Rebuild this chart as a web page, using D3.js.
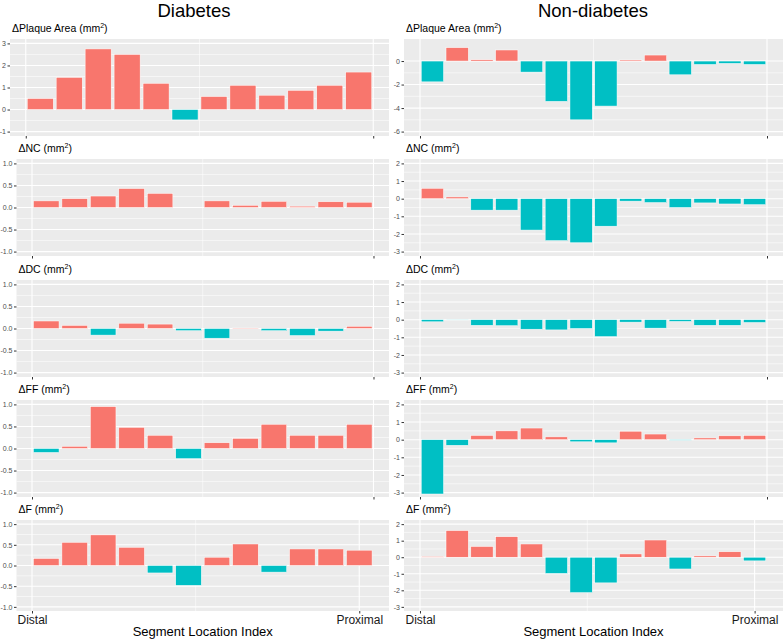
<!DOCTYPE html>
<html>
<head>
<meta charset="utf-8">
<script src="https://cdnjs.cloudflare.com/ajax/libs/d3/7.8.5/d3.min.js"></script>
<style>
body { margin: 0; background: #fff; }
text { font-family: "Liberation Sans", Arial, sans-serif; }
</style>
</head>
<body>
<div id="chart-area"></div>
<script>
// Data
var groups = ["Diabetes", "Non-diabetes"];
var measures = ["Plaque Area", "NC", "DC", "FF", "F"];

var diabetesSegments = [1, 2, 3, 4, 5, 6, 7, 8, 9, 10, 11, 12];
var nonDiabetesSegments = [1, 2, 3, 4, 5, 6, 7, 8, 9, 10, 11, 12, 13, 14];

var diabetesPlaqueArea = [0.5, 1.46, 2.75, 2.5, 1.19, -0.47, 0.59, 1.1, 0.65, 0.87, 1.1, 1.7];
var diabetesNC = [0.15, 0.2, 0.26, 0.43, 0.32, 0, 0.15, 0.05, 0.14, 0.03, 0.13, 0.12];
var diabetesDC = [0.17, 0.07, -0.15, 0.12, 0.1, -0.05, -0.22, 0.01, -0.05, -0.16, -0.06, 0.05];
var diabetesFF = [-0.09, 0.05, 0.95, 0.48, 0.3, -0.23, 0.13, 0.23, 0.55, 0.3, 0.3, 0.55];
var diabetesF = [0.17, 0.56, 0.74, 0.44, -0.18, -0.48, 0.2, 0.52, -0.16, 0.4, 0.4, 0.37];

var nonDiabetesPlaqueArea = [-1.77, 1.14, 0.11, 0.94, -0.94, -3.43, -5.0, -3.83, 0.09, 0.51, -1.17, -0.29, -0.2, -0.29];
var nonDiabetesNC = [0.59, 0.1, -0.65, -0.65, -1.78, -2.38, -2.5, -1.56, -0.14, -0.22, -0.5, -0.24, -0.3, -0.34];
var nonDiabetesDC = [-0.12, -0.02, -0.32, -0.34, -0.54, -0.58, -0.5, -0.96, -0.14, -0.48, -0.1, -0.32, -0.32, -0.16];
var nonDiabetesFF = [-3.08, -0.32, 0.24, 0.5, 0.66, 0.16, -0.12, -0.18, 0.48, 0.32, -0.03, 0.1, 0.22, 0.24];
var nonDiabetesF = [0.04, 1.61, 0.65, 1.24, 0.8, -0.98, -2.14, -1.55, 0.2, 1.04, -0.71, 0.08, 0.33, -0.22];

// y limits and tick labels
var diabetesPlaqueLimits = [-1, 3];
var diabetesPlaqueTicks = [-1, 0, 1, 2, 3];
var diabetesLimits = [-1, 1];
var diabetesTicks = [-1, -0.5, 0, 0.5, 1];
var nonDiabetesPlaqueLimits = [-6, 1.5];
var nonDiabetesPlaqueTicks = [-6, -4, -2, 0];
var nonDiabetesLimits = [-3, 2];
var nonDiabetesTicks = [-3, -2, -1, 0, 1, 2];

var xLabels = ["Distal", "Proximal"];
var xTitle = "Segment Location Index";

var posColor = "#F8766D", negColor = "#00BFC4";

var svg = d3.select("#chart-area")
    .append("svg")
        .attr("width", 784)
        .attr("height", 642);

// Layout
var rowTops = [39, 159, 280, 400, 520];
var rowHeights = [97, 97, 97, 97, 91];

var columns = [
    {
        title: groups[0], titleX: 194,
        lefts: [10, 16.5, 16.5, 16.5, 16.5], right: 389,
        segments: diabetesSegments,
        values: [diabetesPlaqueArea, diabetesNC, diabetesDC, diabetesFF, diabetesF],
        limits: [diabetesPlaqueLimits, diabetesLimits, diabetesLimits, diabetesLimits, diabetesLimits],
        ticks: [diabetesPlaqueTicks, diabetesTicks, diabetesTicks, diabetesTicks, diabetesTicks],
        fmt: [String, fix1, fix1, fix1, fix1]
    },
    {
        title: groups[1], titleX: 593,
        lefts: [404, 404, 404, 404, 404], right: 783,
        segments: nonDiabetesSegments,
        values: [nonDiabetesPlaqueArea, nonDiabetesNC, nonDiabetesDC, nonDiabetesFF, nonDiabetesF],
        limits: [nonDiabetesPlaqueLimits, nonDiabetesLimits, nonDiabetesLimits, nonDiabetesLimits, nonDiabetesLimits],
        ticks: [nonDiabetesPlaqueTicks, nonDiabetesTicks, nonDiabetesTicks, nonDiabetesTicks, nonDiabetesTicks],
        fmt: [String, String, String, String, String]
    }
];

function fix1(d){ return d.toFixed(1); }

function midpoints(arr){
    var out = [];
    var s = arr.slice().sort(function(a, b){ return a - b; });
    for (var i = 1; i < s.length; i++) { out.push((s[i-1] + s[i]) / 2); }
    return out;
}

columns.forEach(function(col){
    // Column title
    svg.append("text")
        .attr("x", col.titleX)
        .attr("y", 17)
        .attr("text-anchor", "middle")
        .attr("font-size", "18.5px")
        .attr("fill", "#000")
        .text(col.title);

    measures.forEach(function(measure, r){
        var left = col.lefts[r],
            top = rowTops[r],
            w = col.right - left,
            h = rowHeights[r];
        var isBottom = (r === measures.length - 1);
        var n = col.segments.length;

        var g = svg.append("g")
            .attr("transform", "translate(" + left + "," + top + ")");

        // Scales (ggplot style 5% expansion)
        var lo = 0.55, hi = n + 0.45, pad = (hi - lo) * 0.05;
        var x = d3.scaleLinear()
            .domain([lo - pad, hi + pad])
            .range([0, w]);
        var lim = col.limits[r], ypad = (lim[1] - lim[0]) * 0.05;
        var y = d3.scaleLinear()
            .domain([lim[0] - ypad, lim[1] + ypad])
            .range([h, 0]);

        var xMajor = isBottom ? [0.5, n] : [0.5, n + 0.5];
        var xMinor = midpoints(xMajor);
        var yMajor = col.ticks[r];
        var yMinor = midpoints(yMajor);

        // Panel background
        g.append("rect")
            .attr("width", w)
            .attr("height", h)
            .attr("fill", "#EBEBEB");

        // Minor grid
        g.selectAll(".y-minor").data(yMinor).enter().append("line")
            .attr("x1", 0).attr("x2", w)
            .attr("y1", function(d){ return y(d); })
            .attr("y2", function(d){ return y(d); })
            .attr("stroke", "#fff").attr("stroke-width", 0.55);
        g.selectAll(".x-minor").data(xMinor).enter().append("line")
            .attr("y1", 0).attr("y2", h)
            .attr("x1", function(d){ return x(d); })
            .attr("x2", function(d){ return x(d); })
            .attr("stroke", "#fff").attr("stroke-width", 0.55);

        // Major grid
        g.selectAll(".y-major").data(yMajor).enter().append("line")
            .attr("x1", 0).attr("x2", w)
            .attr("y1", function(d){ return y(d); })
            .attr("y2", function(d){ return y(d); })
            .attr("stroke", "#fff").attr("stroke-width", 1.1);
        g.selectAll(".x-major").data(xMajor).enter().append("line")
            .attr("y1", 0).attr("y2", h)
            .attr("x1", function(d){ return x(d); })
            .attr("x2", function(d){ return x(d); })
            .attr("stroke", "#fff").attr("stroke-width", 1.1);

        // Bars
        var data = col.segments.map(function(s, i){
            return { seg: s, value: col.values[r][i] };
        });
        g.selectAll(".bar").data(data).enter().append("rect")
            .attr("class", "bar")
            .attr("x", function(d){ return x(d.seg - 0.45); })
            .attr("width", function(d){ return x(d.seg + 0.45) - x(d.seg - 0.45); })
            .attr("y", function(d){ return y(Math.max(0, d.value)); })
            .attr("height", function(d){ return Math.abs(y(d.value) - y(0)); })
            .attr("fill", function(d){ return d.value >= 0 ? posColor : negColor; })
            .attr("stroke", "#fff")
            .attr("stroke-width", 0.5);

        // Y Axis
        var yAxisCall = d3.axisLeft(y)
            .tickValues(yMajor)
            .tickSize(2.5)
            .tickPadding(1.5)
            .tickFormat(col.fmt[r]);
        var yAxis = g.append("g").call(yAxisCall);
        yAxis.select(".domain").remove();
        yAxis.selectAll("line").attr("stroke", "#333");
        yAxis.selectAll("text")
            .attr("fill", "#4D4D4D")
            .attr("font-size", "7px")
            .attr("font-family", "Liberation Sans, Arial, sans-serif");

        // X Axis
        var xAxisCall = d3.axisBottom(x)
            .tickValues(xMajor)
            .tickSize(2.5)
            .tickFormat(function(d, i){ return isBottom ? xLabels[i] : ""; });
        var xAxis = g.append("g")
            .attr("transform", "translate(0," + h + ")")
            .call(xAxisCall);
        xAxis.select(".domain").remove();
        xAxis.selectAll("line").attr("stroke", "#333");
        xAxis.selectAll("text")
            .attr("y", 13)
            .attr("dy", null)
            .attr("fill", "#1a1a1a")
            .attr("font-size", "12px")
            .attr("font-family", "Liberation Sans, Arial, sans-serif");

        // Panel label
        var label = g.append("text")
            .attr("x", 2)
            .attr("y", -7)
            .attr("font-size", "10.5px")
            .attr("fill", "#000");
        label.append("tspan").text("\u0394" + measure + " (mm");
        label.append("tspan")
            .attr("font-size", "7px")
            .attr("dy", -4)
            .text("2");
        label.append("tspan")
            .attr("dy", 4)
            .text(")");

        if (isBottom) {
            g.append("text")
                .attr("x", w / 2)
                .attr("y", 636 - top)
                .attr("text-anchor", "middle")
                .attr("font-size", "13px")
                .attr("fill", "#000")
                .text(xTitle);
        }
    });
});
</script>
</body>
</html>
